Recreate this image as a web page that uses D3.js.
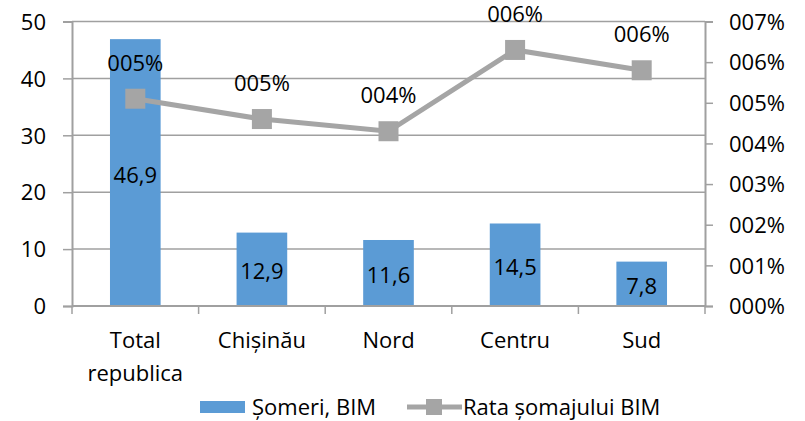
<!DOCTYPE html>
<html><head><meta charset="utf-8">
<script src="https://cdn.jsdelivr.net/npm/d3@7"></script>
<style>body{margin:0;background:#fff}svg text{font-family:"Open Sans",sans-serif;font-size:22px;fill:#000}</style>
</head><body><svg id="c" width="805" height="421"></svg>
<script>
const categories = ["Total\nrepublica", "Chișinău", "Nord", "Centru", "Sud"];
const someri = [46.9, 12.9, 11.6, 14.5, 7.8];
const rata = [0.051, 0.046, 0.043, 0.063, 0.058];
const leftTicks = [0, 10, 20, 30, 40, 50];
const rightTicks = [0, 0.01, 0.02, 0.03, 0.04, 0.05, 0.06, 0.07];
const legendLabels = ["Șomeri, BIM", "Rata șomajului BIM"];

const svg = d3.select("#c");
const L = 72, R = 705, T = 21.5, B = 306;
const x = d3.scaleBand().domain(d3.range(categories.length)).range([L, R]).paddingInner(0.6).paddingOuter(0.3);
const xb = d3.scaleBand().domain(d3.range(categories.length)).range([L, R]);
const y = d3.scaleLinear().domain([0, 50]).range([B, T]);
const y2 = d3.scaleLinear().domain([0, 0.07]).range([B, T]);
const pct = v => String(Math.round(v * 100)).padStart(3, "0") + "%";
const gray = "#a0a0a0";

// gridlines
svg.append("g").selectAll("line").data(leftTicks.slice(1)).join("line")
  .attr("x1", L).attr("x2", R).attr("y1", d => y(d)).attr("y2", d => y(d))
  .attr("stroke", gray).attr("stroke-width", 1.5);

// left axis
const ga = svg.append("g").attr("transform", `translate(${L},0)`)
  .call(d3.axisLeft(y).tickValues(leftTicks).tickSize(9).tickPadding(17));
ga.select(".domain").attr("stroke", gray).attr("stroke-width", 2);
ga.selectAll(".tick line").attr("stroke", gray).attr("stroke-width", 1.5);
ga.selectAll("text").style("font-size", "22px").attr("fill", "#000").attr("dy", "0.35em");

// right axis
const gr = svg.append("g").attr("transform", `translate(${R},0)`)
  .call(d3.axisRight(y2).tickValues(rightTicks).tickFormat(pct).tickSize(8).tickPadding(16));
gr.select(".domain").attr("stroke", gray).attr("stroke-width", 2);
gr.selectAll(".tick line").attr("stroke", gray).attr("stroke-width", 1.5);
gr.selectAll("text").style("font-size", "22px").attr("fill", "#000").attr("dy", "0.35em");

// bars
svg.append("g").selectAll("rect").data(someri).join("rect")
  .attr("x", (d, i) => x(i)).attr("width", x.bandwidth())
  .attr("y", d => y(d)).attr("height", d => B - y(d)).attr("fill", "#5b9bd5");

// x axis
svg.append("line").attr("x1", L).attr("x2", R).attr("y1", B).attr("y2", B).attr("stroke", gray).attr("stroke-width", 2);
svg.append("g").selectAll("line").data(d3.range(categories.length + 1)).join("line")
  .attr("x1", i => L + i * xb.bandwidth()).attr("x2", i => L + i * xb.bandwidth())
  .attr("y1", B).attr("y2", B + 8).attr("stroke", gray).attr("stroke-width", 1.5);
const cx = i => xb(i) + xb.bandwidth() / 2;
categories.forEach((c, i) => {
  const t = svg.append("text").attr("text-anchor", "middle").attr("x", cx(i)).attr("y", 348);
  c.split("\n").forEach((s, j) => t.append("tspan").attr("x", cx(i)).attr("dy", j ? 33 : 0).text(s));
});

// bar labels
svg.append("g").selectAll("text").data(someri).join("text")
  .attr("text-anchor", "middle").attr("x", (d, i) => cx(i))
  .attr("y", d => (y(d) + B) / 2 + 10).text(d => String(d).replace(".", ","));

// line
svg.append("path").datum(rata)
  .attr("d", d3.line().x((d, i) => cx(i)).y(d => y2(d)))
  .attr("fill", "none").attr("stroke", "#a5a5a5").attr("stroke-width", 5);
svg.append("g").selectAll("rect").data(rata).join("rect")
  .attr("x", (d, i) => cx(i) - 10).attr("y", d => y2(d) - 10).attr("width", 20).attr("height", 20)
  .attr("fill", "#a5a5a5");
svg.append("g").selectAll("text").data(rata).join("text")
  .attr("text-anchor", "middle").attr("x", (d, i) => cx(i))
  .attr("y", d => y2(d) - 28).text(pct);

// legend
const lg = svg.append("g");
lg.append("rect").attr("x", 200).attr("y", 401).attr("width", 45).attr("height", 12).attr("fill", "#5b9bd5");
lg.append("text").attr("x", 252).attr("y", 415).text(legendLabels[0]);
lg.append("line").attr("x1", 407).attr("x2", 462).attr("y1", 407).attr("y2", 407).attr("stroke", "#a5a5a5").attr("stroke-width", 5);
lg.append("rect").attr("x", 426).attr("y", 399).attr("width", 16).attr("height", 16).attr("fill", "#a5a5a5");
lg.append("text").attr("x", 463).attr("y", 415).text(legendLabels[1]);
</script></body></html>
